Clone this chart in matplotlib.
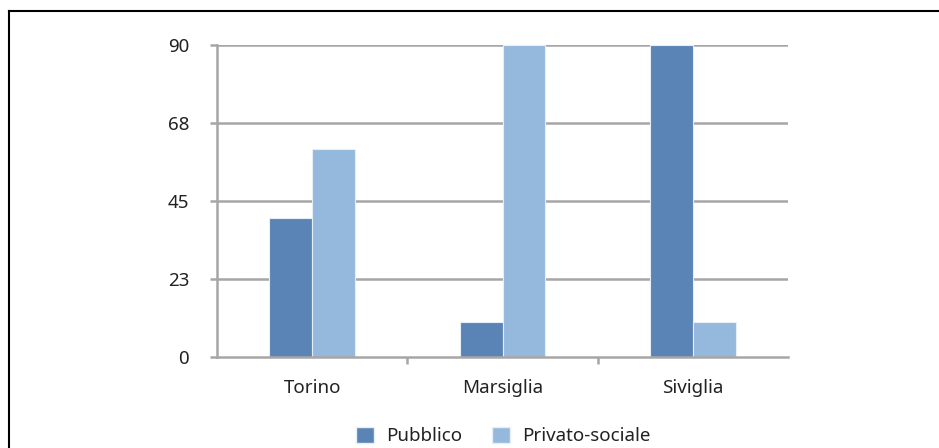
import numpy as np
import matplotlib.pyplot as plt
from matplotlib.lines import Line2D
from matplotlib.patches import Patch

# data
cities = ['Torino', 'Marsiglia', 'Siviglia']
pubblico = [40, 10, 90]
privato = [60, 90, 10]
yticks = [0, 22.5, 45, 67.5, 90]
ytick_labels = ['0', '23', '45', '68', '90']

plt.rcParams['font.family'] = ['Noto Sans', 'DejaVu Sans']
c_pub = '#5b84b6'
c_priv = '#95b9dc'
grid_c = '#a6a6a6'

fig = plt.figure(figsize=(9.39, 4.48), dpi=100)
ax = fig.add_axes([0.2311, 0.2031, 0.6081, 0.6964])

x = np.arange(len(cities))
w = 0.225
ax.bar(x - w / 2, pubblico, w, color=c_pub, edgecolor='#e8eef6', linewidth=0.8, zorder=3)
ax.bar(x + w / 2, privato, w, color=c_priv, edgecolor='#e8eef6', linewidth=0.8, zorder=3)

ax.set_xlim(-0.5, 2.5)
ax.set_ylim(0, 90)
ax.set_yticks(yticks)
ax.set_yticklabels(ytick_labels)
ax.set_xticks(x)
ax.set_xticklabels(cities)
ax.set_xticks([0.5, 1.5], minor=True)

for y in yticks[1:]:
    ax.axhline(y, color=grid_c, linewidth=1.8, zorder=1)

for s in ['top', 'right']:
    ax.spines[s].set_visible(False)
for s in ['left', 'bottom']:
    ax.spines[s].set_color(grid_c)
    ax.spines[s].set_linewidth(1.8)
    ax.spines[s].set_zorder(4)

ax.tick_params(axis='y', length=5, width=1.8, color=grid_c, labelsize=13.5, pad=15, labelcolor='#222222')
ax.tick_params(axis='x', which='major', length=0, labelsize=13.5, pad=16, labelcolor='#222222')
ax.tick_params(axis='x', which='minor', length=5, width=1.8, color=grid_c)

handles = [Patch(facecolor=c_pub, edgecolor='#e8eef6', label='Pubblico'),
           Patch(facecolor=c_priv, edgecolor='#e8eef6', label='Privato-sociale')]
fig.legend(handles=handles, loc='center', bbox_to_anchor=(0.536, 0.027), ncol=2, frameon=False,
           fontsize=13.5, handlelength=0.95, handleheight=0.95, columnspacing=1.6, handletextpad=0.65,
           labelcolor='#222222')

# frame lines at top and left of the picture
fig.add_artist(Line2D([9 / 939, 9 / 939], [0, 1 - 11 / 448], color='black', linewidth=1.5))
fig.add_artist(Line2D([9 / 939, 1], [1 - 11 / 448, 1 - 11 / 448], color='black', linewidth=1.5))

fig.savefig('out.png', dpi=100)
